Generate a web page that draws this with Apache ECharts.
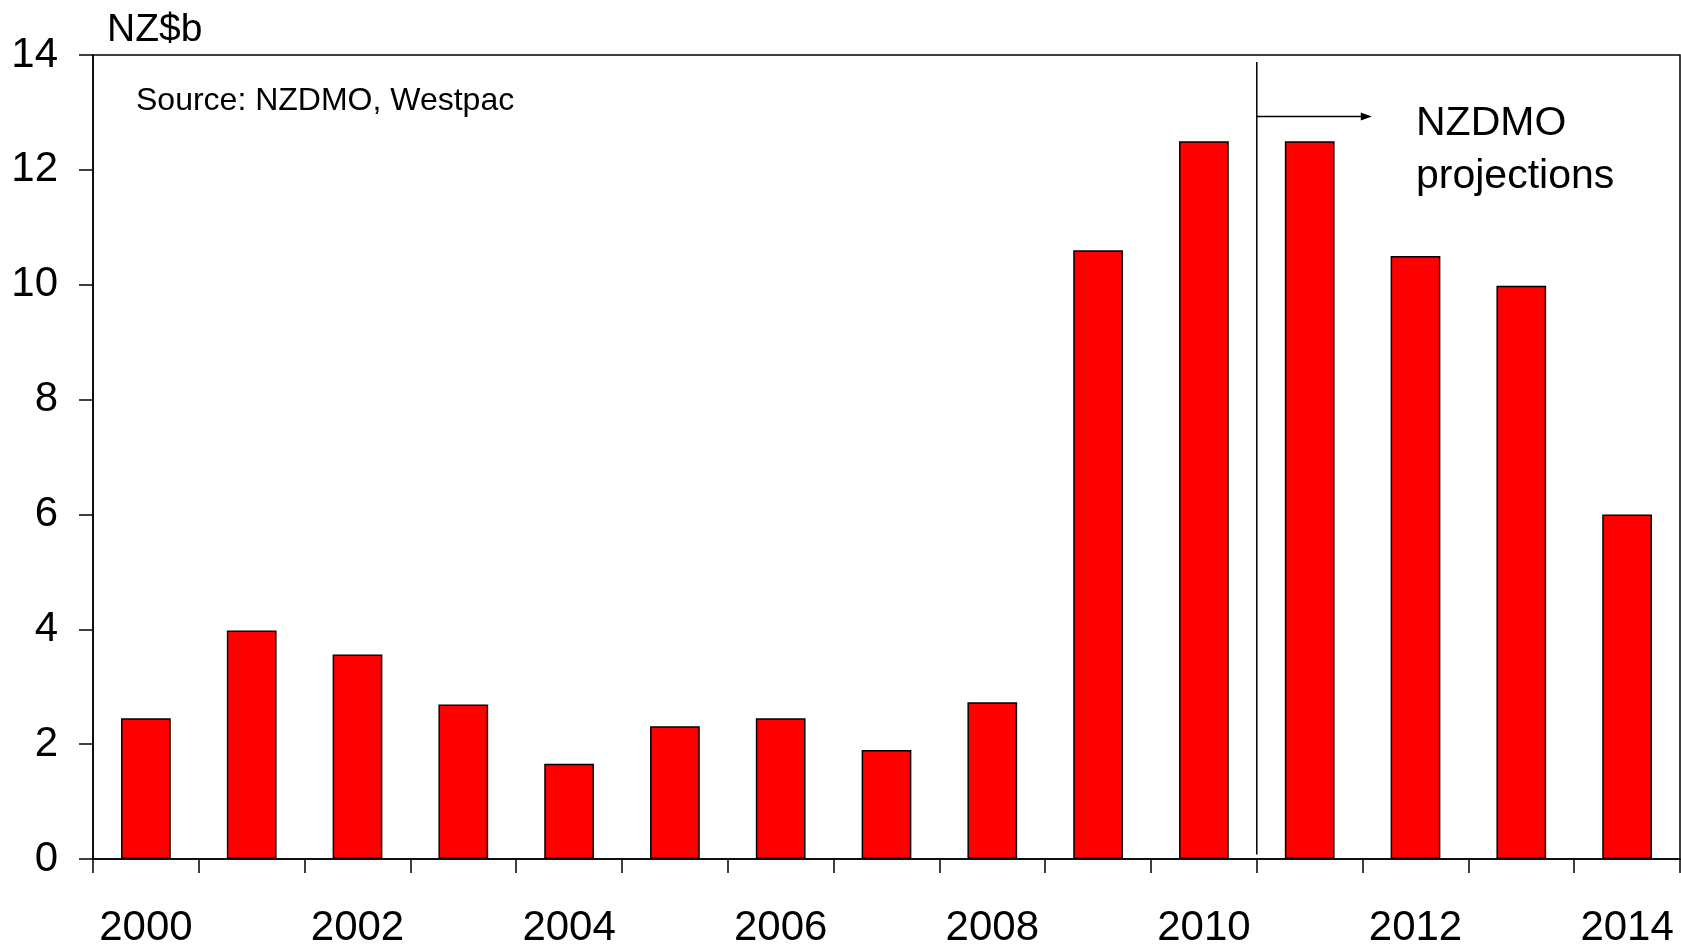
<!DOCTYPE html>
<html>
<head>
<meta charset="utf-8">
<script src="https://cdn.jsdelivr.net/npm/echarts@6/dist/echarts.min.js"></script>
<style>
html,body{margin:0;padding:0;background:#fff;}
#chart{width:1681px;height:949px;}
</style>
</head>
<body>
<div id="chart"></div>
<script>
const years = ['2000','2001','2002','2003','2004','2005','2006','2007','2008','2009','2010','2011','2012','2013','2014'];
const values = [2.45,3.98,3.56,2.69,1.66,2.31,2.45,1.90,2.73,10.60,12.50,12.50,10.50,9.98,6.00];
const yTicks = [0,2,4,6,8,10,12,14];
const unitLabel = 'NZ$b';
const sourceLabel = 'Source: NZDMO, Westpac';
const projLabel = ['NZDMO','projections'];
const projStart = ['2010','2011'];

const FONT = '"Liberation Sans", Arial, sans-serif';
const chart = echarts.init(document.getElementById('chart'));

const option = {
  animation: false,
  backgroundColor: '#fff',
  grid: {left: 93, right: 1, top: 55, bottom: 85, show: true, borderColor: '#000', borderWidth: 1.5, containLabel: false},
  xAxis: {
    type: 'category',
    data: years,
    boundaryGap: true,
    axisLine: {lineStyle: {color: '#000', width: 1.5}},
    axisTick: {show: true, interval: 0, length: 14, inside: false, lineStyle: {color: '#000', width: 1.5}},
    axisLabel: {interval: 1, margin: 48, fontSize: 42, color: '#000', fontFamily: FONT},
    splitLine: {show: false}
  },
  yAxis: {
    type: 'value',
    min: yTicks[0], max: yTicks[yTicks.length-1], interval: 2,
    axisLine: {show: true, lineStyle: {color: '#000', width: 1.5}},
    axisTick: {show: true, length: 14, lineStyle: {color: '#000', width: 1.5}},
    axisLabel: {margin: 35, fontSize: 42, color: '#000', fontFamily: FONT},
    splitLine: {show: false}
  },
  series: [{
    type: 'bar',
    data: values,
    barWidth: '47%',
    itemStyle: {color: '#ff0000', borderColor: '#000', borderWidth: 1.5}
  }]
};
chart.setOption(option);

function drawAnnotations(){
  const a = chart.convertToPixel({xAxisIndex:0}, projStart[0]);
  const b = chart.convertToPixel({xAxisIndex:0}, projStart[1]);
  const xDiv = (a + b) / 2;
  const yTop = chart.convertToPixel({yAxisIndex:0}, 13.88);
  const yBot = chart.convertToPixel({yAxisIndex:0}, 0.08);
  const yArrow = chart.convertToPixel({yAxisIndex:0}, 12.93);
  const xArrowEnd = xDiv + 115;
  chart.setOption({
    graphic: [
      {type:'text', left: 107, top: 11, style:{text: unitLabel, font: '39px ' + FONT, fill:'#000'}},
      {type:'text', left: 136, top: 85, style:{text: sourceLabel, font: '32px ' + FONT, fill:'#000'}},
      {type:'text', left: 1416, top: 103, style:{text: projLabel[0], font: '41px ' + FONT, fill:'#000'}},
      {type:'text', left: 1416, top: 156, style:{text: projLabel[1], font: '41px ' + FONT, fill:'#000'}},
      {type:'line', shape:{x1:xDiv, y1:yTop, x2:xDiv, y2:yBot}, style:{stroke:'#000', lineWidth:1.5}},
      {type:'line', shape:{x1:xDiv, y1:yArrow, x2:xArrowEnd-8, y2:yArrow}, style:{stroke:'#000', lineWidth:1.5}},
      {type:'polygon', shape:{points:[[xArrowEnd, yArrow],[xArrowEnd-11, yArrow-4],[xArrowEnd-11, yArrow+4]]}, style:{fill:'#000'}}
    ]
  });
}
drawAnnotations();
</script>
</body>
</html>
